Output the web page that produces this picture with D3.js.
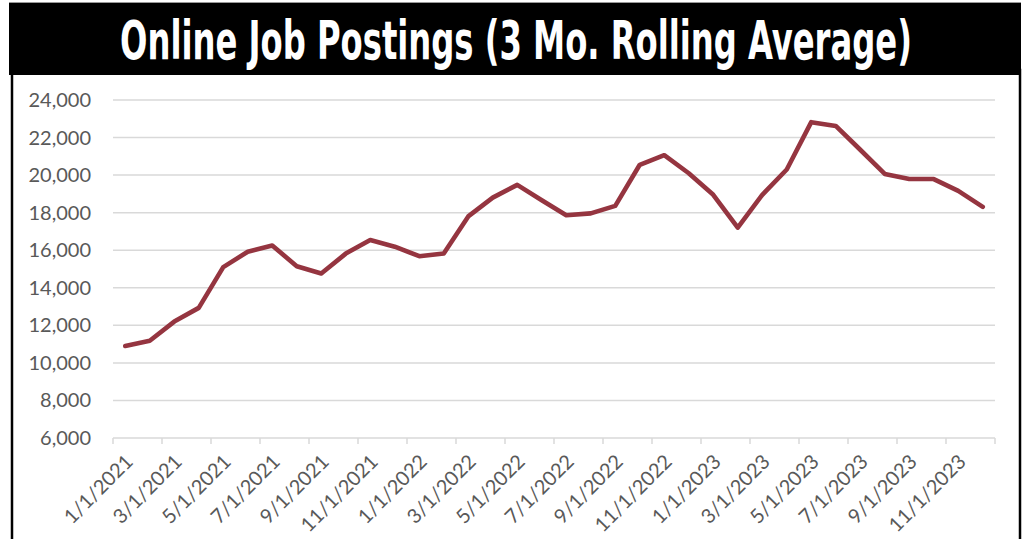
<!DOCTYPE html>
<html lang="en">
<head>
  <meta charset="utf-8">
  <title>Online Job Postings</title>
  <script src="https://d3js.org/d3.v7.min.js"></script>
  <style>
    html, body { margin: 0; padding: 0; background: #fff; }
    svg { display: block; }
    .grid line { stroke: #d9d9d9; stroke-width: 1.5px; }
    .ylab text, .xlab text { font-family: Lato, "Open Sans", sans-serif; font-size: 20px; fill: #595959; }
  </style>
</head>
<body>
  <svg width="1026" height="539"></svg>
  <script>
    // months on the category axis
    const months = [
      "1/1/2021", "2/1/2021", "3/1/2021", "4/1/2021", "5/1/2021", "6/1/2021",
      "7/1/2021", "8/1/2021", "9/1/2021", "10/1/2021", "11/1/2021", "12/1/2021",
      "1/1/2022", "2/1/2022", "3/1/2022", "4/1/2022", "5/1/2022", "6/1/2022",
      "7/1/2022", "8/1/2022", "9/1/2022", "10/1/2022", "11/1/2022", "12/1/2022",
      "1/1/2023", "2/1/2023", "3/1/2023", "4/1/2023", "5/1/2023", "6/1/2023",
      "7/1/2023", "8/1/2023", "9/1/2023", "10/1/2023", "11/1/2023", "12/1/2023"
    ];
    // 3 month rolling average of postings
    const postings = [
      10900, 11180, 12200, 12930, 15100, 15920, 16250, 15150, 14760, 15820, 16540, 16190,
      15680, 15830, 17800, 18800, 19480, 18660, 17860, 17960, 18360, 20550, 21060, 20100,
      18950, 17200, 18950, 20300, 22820, 22620, 21350, 20060, 19790, 19790, 19160, 18310
    ];
    const yTicks = [6000, 8000, 10000, 12000, 14000, 16000, 18000, 20000, 22000, 24000];
    const title = "Online Job Postings (3 Mo. Rolling Average)";

    const svg = d3.select("svg");

    // frame + title bar
    svg.append("rect")
      .attr("x", 12).attr("y", 70).attr("width", 1008).attr("height", 500)
      .attr("fill", "#fff").attr("stroke", "#000").attr("stroke-width", 2.5);
    svg.append("rect")
      .attr("x", 9).attr("y", 3).attr("width", 1012).attr("height", 72)
      .attr("fill", "#000");
    svg.append("line")
      .attr("x1", 9).attr("x2", 1021).attr("y1", 2.5).attr("y2", 2.5)
      .attr("stroke", "#999").attr("stroke-width", 1);

    // title squeezed horizontally to the width it has in the original
    const tg = svg.append("g");
    const tt = tg.append("text")
      .attr("x", 0).attr("y", 0)
      .attr("text-anchor", "middle")
      .attr("fill", "#fff")
      .style("font-family", "'Liberation Sans Narrow', 'DejaVu Sans Condensed', sans-serif")
      .style("font-weight", "bold")
      .style("font-size", "54px")
      .text(title);
    const sx = 792 / tt.node().getComputedTextLength();
    tg.attr("transform", `translate(516,59) scale(${Math.min(1, sx)},1)`);

    const x = d3.scaleBand().domain(months).range([113, 995]).padding(0);
    const y = d3.scaleLinear().domain([6000, 24000]).range([438, 100]);
    const cx = m => x(m) + x.bandwidth() / 2;

    // horizontal gridlines
    svg.append("g").attr("class", "grid")
      .selectAll("line").data(yTicks).join("line")
        .attr("x1", 113).attr("x2", 995)
        .attr("y1", d => y(d)).attr("y2", d => y(d));

    // y labels
    svg.append("g").attr("class", "ylab")
      .selectAll("text").data(yTicks).join("text")
        .attr("x", 91).attr("y", d => y(d))
        .attr("dy", "0.35em")
        .attr("text-anchor", "end")
        .text(d3.format(","));

    // x tick marks every second month, on category boundaries
    const tickPos = months.filter((m, i) => i % 2 === 0).map(m => x(m)).concat([995]);
    svg.append("g").attr("class", "grid")
      .selectAll("line").data(tickPos).join("line")
        .attr("x1", d => d).attr("x2", d => d)
        .attr("y1", y(6000)).attr("y2", y(6000) + 6);

    // x labels
    svg.append("g").attr("class", "xlab")
      .selectAll("text").data(months.filter((m, i) => i % 2 === 0)).join("text")
        .attr("transform", d => `translate(${cx(d) + 4},${y(6000) + 20}) rotate(-45)`)
        .attr("text-anchor", "end")
        .attr("dy", "0.35em")
        .text(d => d);

    // the line
    const line = d3.line()
      .x((d, i) => cx(months[i]))
      .y(d => y(d));

    svg.append("path")
      .datum(postings)
      .attr("d", line)
      .attr("fill", "none")
      .attr("stroke", "#953540")
      .attr("stroke-width", 4.6)
      .attr("stroke-linejoin", "round")
      .attr("stroke-linecap", "round");
  </script>
</body>
</html>
